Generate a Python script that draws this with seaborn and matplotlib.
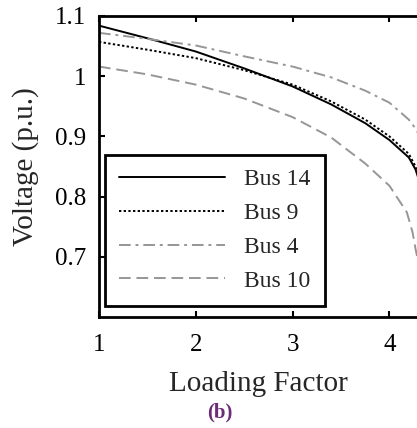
import matplotlib
matplotlib.use("Agg")
import matplotlib.pyplot as plt
import seaborn as sns
from matplotlib.ticker import FormatStrFormatter

# ---- data ----
bus14_x = [1.0, 1.5, 2.0, 2.5, 3.0, 3.4, 3.75, 4.0, 4.2, 4.27, 4.3]
bus14_y = [1.084, 1.063, 1.041, 1.013, 0.983, 0.953, 0.922, 0.894, 0.865, 0.845, 0.830]

bus9_x = [1.0, 1.5, 2.0, 2.5, 3.0, 3.4, 3.75, 4.0, 4.2, 4.27, 4.3]
bus9_y = [1.057, 1.044, 1.030, 1.010, 0.986, 0.958, 0.928, 0.900, 0.871, 0.850, 0.835]

bus4_x = [1.0, 1.5, 2.0, 2.5, 3.0, 3.4, 3.75, 4.0, 4.2, 4.28, 4.32]
bus4_y = [1.072, 1.062, 1.051, 1.033, 1.016, 0.998, 0.976, 0.956, 0.928, 0.911, 0.895]

bus10_x = [1.0, 1.5, 2.0, 2.5, 3.0, 3.4, 3.75, 4.0, 4.18, 4.24, 4.27, 4.30]
bus10_y = [1.016, 1.003, 0.986, 0.963, 0.932, 0.898, 0.855, 0.818, 0.774, 0.740, 0.713, 0.690]

labels = ["Bus 14", "Bus 9", "Bus 4", "Bus 10"]
x_ticks = [1, 2, 3, 4]
y_ticks = [0.7, 0.8, 0.9, 1.0, 1.1]

sns.set_style("ticks")
plt.rcParams["font.family"] = ["Liberation Serif", "DejaVu Serif"]

fig = plt.figure(figsize=(4.17, 4.28), dpi=100)
ax = fig.add_axes([99 / 417, 111 / 428, 318 / 417, 301 / 428])

black = "#000000"
gray = "#969696"
series = [
    (bus14_x, bus14_y, labels[0], black, "-"),
    (bus9_x, bus9_y, labels[1], black, (0, (1.2, 1.2))),
    (bus4_x, bus4_y, labels[2], gray, (0, (6, 2.5, 1.5, 2.5))),
    (bus10_x, bus10_y, labels[3], gray, (0, (6, 3))),
]
for xs, ys, lab, col, ls in series:
    sns.lineplot(x=xs, y=ys, ax=ax, color=col, linestyle=ls, linewidth=1.4,
                 label=lab, sort=True)

ax.set_xlim(1, 4.285)
ax.set_ylim(0.6, 1.1)
ax.set_xticks(x_ticks)
ax.set_yticks(y_ticks)
ax.yaxis.set_major_formatter(FormatStrFormatter("%g"))
ax.tick_params(direction="in", top=True, right=False, length=4, width=1.5,
               labelsize=18, colors="black")
ax.tick_params(axis="x", pad=12)
ax.tick_params(axis="y", pad=9)
for side in ["left", "bottom", "top"]:
    ax.spines[side].set_linewidth(2)
    ax.spines[side].set_color("black")
ax.spines["right"].set_visible(False)

ax.set_xlabel("Loading Factor", fontsize=21, labelpad=11)
ax.set_ylabel("Voltage (p.u.)", fontsize=21, labelpad=12)

leg = ax.legend(loc="lower left", bbox_to_anchor=(0.019, 0.037), fontsize=17,
                frameon=True, fancybox=False, handlelength=4.5,
                handletextpad=0.8, labelspacing=0.52, borderpad=0.6,
                borderaxespad=0)
leg.get_frame().set_edgecolor("black")
leg.get_frame().set_linewidth(2)
leg.get_frame().set_alpha(1)

fig.text(220 / 417, 1 - 412 / 428, "(b)", ha="center", va="center",
         fontsize=15, fontweight="bold", color="#6b2c78")

fig.savefig("out.png", dpi=100)
